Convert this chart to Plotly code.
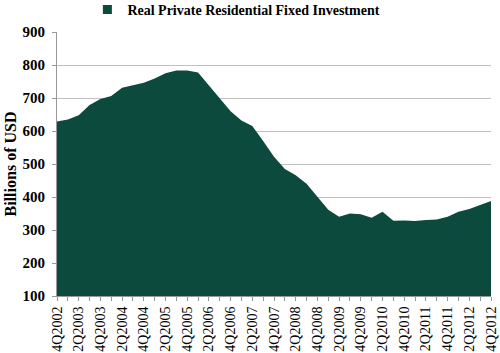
import plotly.graph_objects as go

quarters = []
for yr in range(2002, 2013):
    for q in range(1, 5):
        if (yr == 2002 and q < 4):
            continue
        quarters.append(f"{q}Q{yr}")
quarters = quarters[:41]

investment = [629, 635, 648, 679, 697, 706, 731, 739, 746, 759,
              775, 783, 783, 777, 739, 699, 660, 632, 615, 570,
              522, 485, 466, 440, 400, 361, 340, 350, 348, 337,
              355, 328, 329, 327, 330, 332, 340, 355, 364, 375, 388]

series_name = "Real Private Residential Fixed Investment"
y_ticks = [100, 200, 300, 400, 500, 600, 700, 800, 900]

ticktext = [q if i % 2 == 0 else "" for i, q in enumerate(quarters)]

color = "#0b4a3c"
serif = "Liberation Serif"

fig = go.Figure()
fig.add_trace(go.Scatter(
    x=quarters, y=investment, mode="lines", fill="tozeroy",
    line=dict(color=color, width=0), fillcolor=color,
    showlegend=False, hoverinfo="x+y"))
fig.add_trace(go.Scatter(
    x=[None], y=[None], mode="markers", name=series_name,
    marker=dict(symbol="square", color=color, size=9)))

fig.update_layout(
    width=500, height=353,
    margin=dict(l=57, r=9, t=32, b=57),
    paper_bgcolor="white", plot_bgcolor="white",
    font=dict(family=serif, color="black"),
    legend=dict(orientation="h", x=0.07, xanchor="left",
                yref="container", y=0.972, yanchor="middle",
                font=dict(family=serif, size=14, color="black", weight="bold"),
                itemwidth=30, tracegroupgap=0),
    xaxis=dict(type="category", categoryorder="array", categoryarray=quarters,
               range=[0, 40], tickmode="array", tickvals=quarters, ticktext=ticktext,
               tickangle=-90, ticks="outside", ticklen=4, tickcolor="#999999",
               showline=True, linecolor="#999999", linewidth=1,
               showgrid=False, tickfont=dict(family=serif, size=14, color="black"),
               automargin=False),
    yaxis=dict(range=[100, 900], tickmode="array", tickvals=y_ticks,
               ticks="outside", ticklen=4, tickcolor="#999999",
               showline=True, linecolor="#999999", linewidth=1,
               showgrid=True, gridcolor="#c0c0c0", gridwidth=1,
               tickfont=dict(family=serif, size=15, color="black", weight="bold"),
               ticklabelstandoff=4,
               title=dict(text="Billions of USD", standoff=1,
                          font=dict(family=serif, size=16, color="black", weight="bold")),
               automargin=False),
)

fig.write_html("out.html")
